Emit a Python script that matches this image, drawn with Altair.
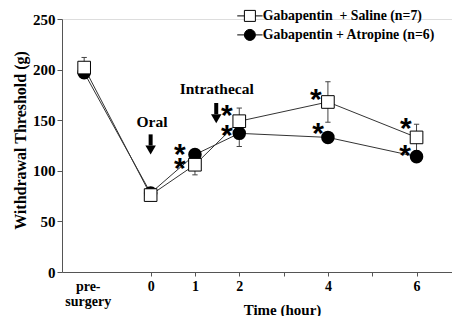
import altair as alt
import pandas as pd

# ---- data ----
time_pos = [-1.5, 0, 1, 2, 4, 6]
saline_mean = [202, 76, 106, 149, 168, 133]
saline_sem = [10, 4, 10, 13, 20, 13]
atropine_mean = [197, 78, 116, 137, 133, 114]
atropine_sem = [4, 3, 5, 13, 4, 4]
series_names = ["Gabapentin\u00a0 + Saline (n=7)", "Gabapentin + Atropine (n=6)"]

star_x = [0.66, 0.66, 1.72, 1.72, 3.73, 3.78, 5.76, 5.74]
star_y = [125, 111, 163, 143, 179, 145, 150, 124]

note_text = ["Oral", "Intrathecal"]
note_x = [0.03, 1.49]
note_y = [148, 181]
arrow_x = [0.0, 1.48]
arrow_top = [136, 167]
arrow_base = [125, 156]
arrow_tip_center = [120.5, 151.5]

x_tick_values = [-1.42, 0, 1, 2, 3, 4, 5, 6]
y_tick_values = [0, 50, 100, 150, 200, 250]

FONT = "Liberation Serif"

df = pd.DataFrame({
    "x": time_pos * 2,
    "y": saline_mean + atropine_mean,
    "sem": saline_sem + atropine_sem,
    "series": [series_names[0]] * len(time_pos) + [series_names[1]] * len(time_pos),
})
df["lo"] = df["y"] - df["sem"]
df["hi"] = df["y"] + df["sem"]
df["cl"] = df["x"] - 0.06
df["cr"] = df["x"] + 0.06

xs = alt.Scale(domain=[-2, 6.8], nice=False, zero=False)
ys = alt.Scale(domain=[0, 250], nice=False)

X = alt.X("x:Q", scale=xs, axis=alt.Axis(
    values=x_tick_values,
    labelExpr="datum.value < 0 ? ['pre-', 'surgery'] : ((datum.value == 3 || datum.value == 5) ? '' : datum.label)",
    tickOpacity={"condition": {"test": "datum.value < 0", "value": 0}, "value": 1},
    title="Time (hour)", titleX=220, titleY=37, titleAlign="center", titleBaseline="middle",
    grid=False, tickSize=4, labelPadding=3, labelLineHeight=15,
    labelFontSize=14, labelFont=FONT, labelFontWeight="bold", labelColor="black",
    titleFont=FONT, titleFontSize=15, titleFontWeight="bold", titleColor="black",
    domainColor="#555", tickColor="#555", labelFlush=False, labelOverlap=False,
))
Y = alt.Y("y:Q", scale=ys, axis=alt.Axis(
    values=y_tick_values, title="Withdrawal Threshold (g)",
    titleX=-42, titleY=121, titleAlign="center", titleBaseline="middle", titleAngle=-90,
    grid=False, tickSize=5, labelPadding=2,
    labelFontSize=15, labelFont=FONT, labelFontWeight="bold", labelColor="black",
    titleFont=FONT, titleFontSize=16, titleFontWeight="bold", titleColor="black",
    domainColor="#555", tickColor="#555",
))

base = alt.Chart(df)

lines = base.mark_line(color="#333", strokeWidth=1).encode(X, Y, detail="series:N")

err = base.mark_rule(color="#444", strokeWidth=1).encode(X, alt.Y("lo:Q", scale=ys), y2="hi:Q")
cap_lo = base.mark_rule(color="#444", strokeWidth=1).encode(
    alt.X("cl:Q", scale=xs), x2="cr:Q", y=alt.Y("lo:Q", scale=ys))
cap_hi = base.mark_rule(color="#444", strokeWidth=1).encode(
    alt.X("cl:Q", scale=xs), x2="cr:Q", y=alt.Y("hi:Q", scale=ys))

circles = base.transform_filter(alt.datum.series == series_names[1]).mark_point(
    shape="circle", filled=True, fill="black", stroke="black", size=133, opacity=1
).encode(X, Y)
squares = base.transform_filter(alt.datum.series == series_names[0]).mark_point(
    shape="square", filled=True, fill="white", stroke="black", strokeWidth=1, size=160, opacity=1
).encode(X, Y)

# legend-only layer (no marks drawn, legend from explicit scale domains)
sq_path = "M-2.3,0H-1M1,0H2.3M-1,-1H1V1H-1Z"
ci_path = "M-2.3,0H-1M1,0H2.3M-1,0A1,1 0 1,0 1,0A1,1 0 1,0 -1,0Z"


def leg():
    return alt.Legend(orient="none", legendX=181, legendY=-10, title=None,
                      symbolSize=121, labelOffset=6, rowPadding=3,
                      labelFont=FONT, labelFontSize=13.8, labelFontWeight="bold",
                      labelColor="black", symbolStrokeColor="black",
                      symbolStrokeWidth=1, padding=0, labelLimit=300)


legend_layer = base.transform_filter("datum.y < -1000").mark_point(
    filled=True, strokeWidth=1, opacity=1
).encode(
    X, Y,
    fill=alt.Fill("series:N", scale=alt.Scale(domain=series_names, range=["white", "black"]), legend=leg()),
    stroke=alt.Stroke("series:N", scale=alt.Scale(domain=series_names, range=["black", "black"]), legend=leg()),
    shape=alt.Shape("series:N", scale=alt.Scale(domain=series_names, range=[sq_path, ci_path]), legend=leg()),
)

stars_df = pd.DataFrame({"x": star_x, "y": star_y})
stars = alt.Chart(stars_df).mark_text(
    text="*", font="Liberation Sans", fontWeight="bold", fontSize=30, color="black",
    baseline="alphabetic", dy=18
).encode(X, Y)

arrows_df = pd.DataFrame({"x": arrow_x, "top": arrow_top, "base": arrow_base, "tip": arrow_tip_center})
shafts = alt.Chart(arrows_df).mark_rule(color="black", strokeWidth=4).encode(
    X, alt.Y("top:Q", scale=ys), y2="base:Q")
heads = alt.Chart(arrows_df).mark_point(shape="triangle-down", filled=True, color="black",
                                        size=110, opacity=1).encode(X, alt.Y("tip:Q", scale=ys))

notes_df = pd.DataFrame({"x": note_x, "y": note_y, "t": note_text})
notes = alt.Chart(notes_df).mark_text(font=FONT, fontWeight="bold", fontSize=15.5, color="black",
                                      baseline="middle", align="center").encode(X, Y, text="t:N")

chart = alt.layer(
    lines, err, cap_lo, cap_hi, circles, squares, legend_layer, stars, shafts, heads, notes
).properties(
    width=390, height=253,
    autosize=alt.AutoSizeParams(type="none"),
    padding={"left": 54, "top": 11, "right": 0, "bottom": 44},
).configure_view(stroke=None).configure(background="white")

chart.save("out.html", embed_options={"renderer": "svg", "actions": False})
